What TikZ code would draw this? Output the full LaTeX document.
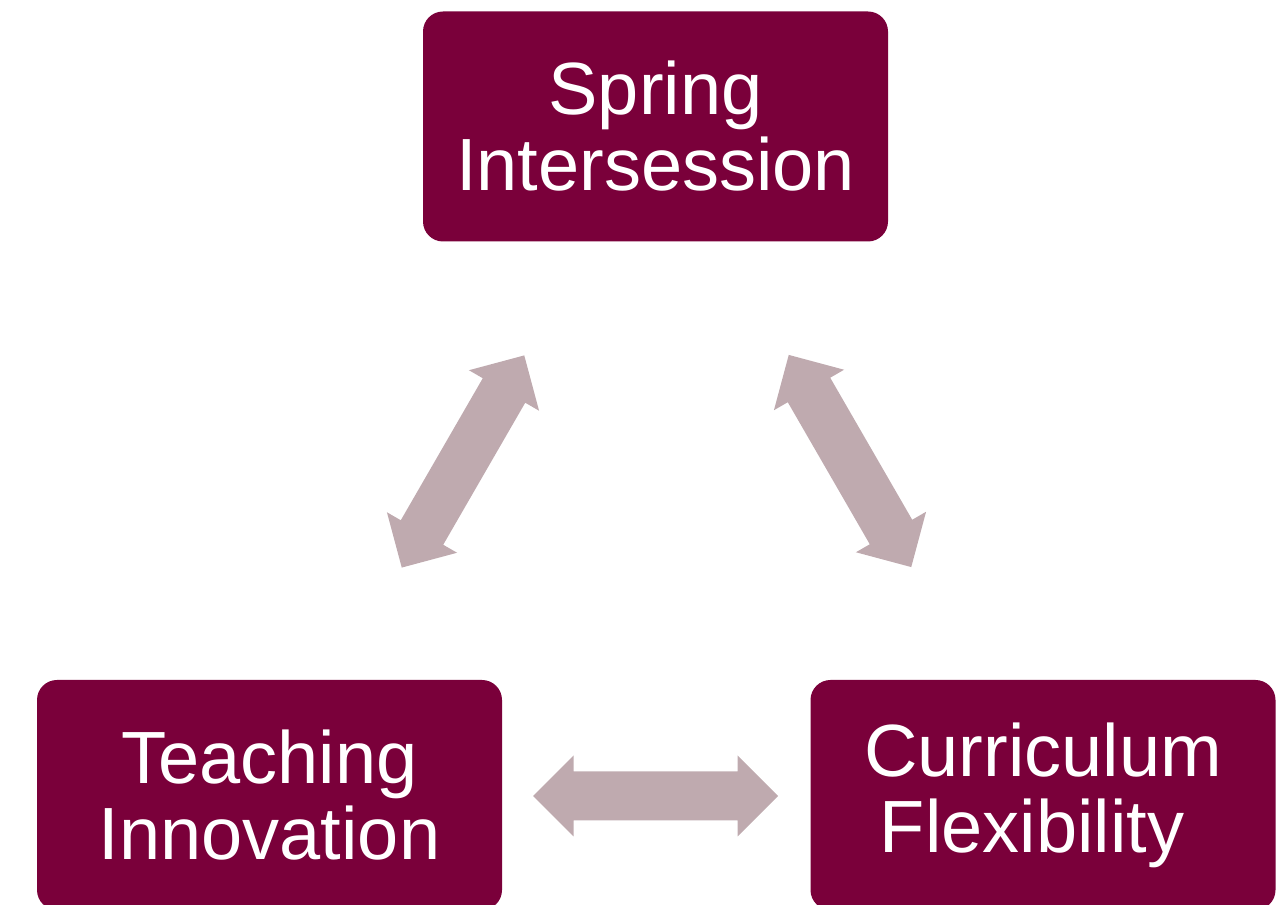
\documentclass[tikz,border=0pt]{standalone}
\usepackage{fontspec}
\setmainfont{Liberation Sans}
\definecolor{boxred}{RGB}{122,0,58}
\definecolor{arrowpink}{RGB}{191,170,175}
\begin{document}
\begin{tikzpicture}[x=1pt,y=1pt,
  topicbox/.style={fill=boxred, rounded corners=20pt, text=white,
    minimum width=465pt, minimum height=230pt, inner sep=0pt, align=center,
    font=\fontsize{74pt}{76pt}\selectfont},
  blockarrow/.style={fill=arrowpink, draw=none}]
\useasboundingbox (0,0) rectangle (1286,905);
\clip (0,0) rectangle (1286,905);
% boxes (y up: y = 905 - y_image)
\node[topicbox] (spring) at (655.5,778.5) {Spring\\Intersession};
\node[topicbox] (teach) at (269.5,110) {Teaching\\Innovation};
\node[topicbox] (curr) at (1043,110) {Curriculum\\Flexibility\hspace*{22pt}};
% double block arrows
\def\dblarrow{(-122.5,0) -- (-82,40.5) -- (-82,24.5) -- (82,24.5) -- (82,40.5) -- (122.5,0) -- (82,-40.5) -- (82,-24.5) -- (-82,-24.5) -- (-82,-40.5) -- cycle}
\begin{scope}[shift={(463,443.5)}, rotate=60]
  \fill[blockarrow] \dblarrow;
\end{scope}
\begin{scope}[shift={(850,444)}, rotate=-60]
  \fill[blockarrow] \dblarrow;
\end{scope}
\begin{scope}[shift={(655.5,109)}]
  \fill[blockarrow] \dblarrow;
\end{scope}
\end{tikzpicture}
\end{document}
